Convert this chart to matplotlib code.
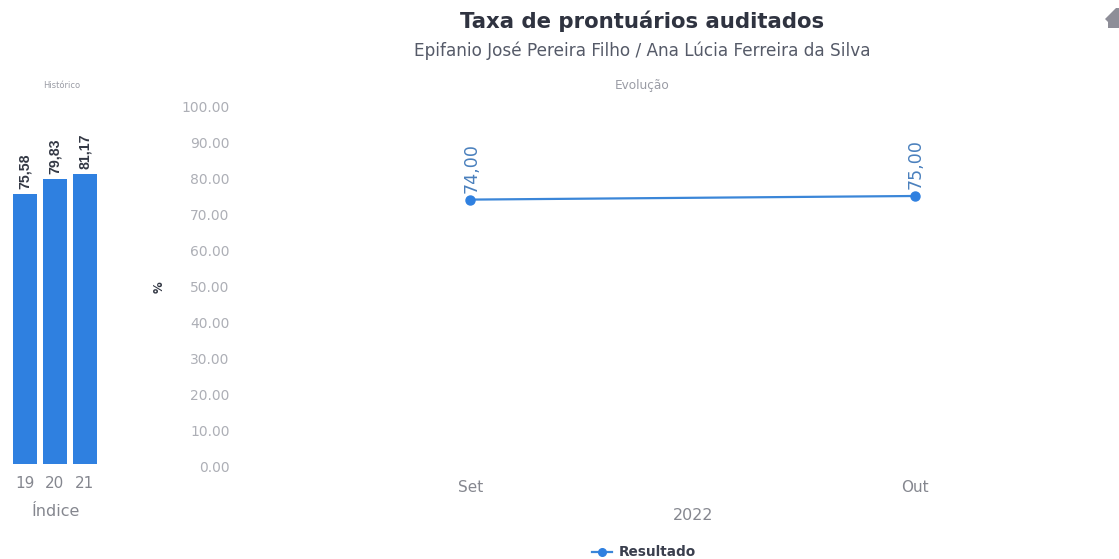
import matplotlib
matplotlib.use('Agg')
import matplotlib.pyplot as plt
from matplotlib.patches import Polygon

plt.rcParams['font.family'] = ['DejaVu Sans']

W, H = 1119, 559

hist_labels = ['19', '20', '21']
hist_values = [75.58, 79.83, 81.17]
hist_text = ['75,58', '79,83', '81,17']

months = ['Set', 'Out']
result_values = [74.00, 75.00]
result_text = ['74,00', '75,00']

y_ticks = [0, 10, 20, 30, 40, 50, 60, 70, 80, 90, 100]
y_labels = ['{:.2f}'.format(t) for t in y_ticks]

BLUE = '#2f80e0'
LINE = '#3b86d8'
GREY = '#9a9ca5'


def box(x0, y0, x1, y1):
    # pixel box (y from the top) to figure fractions
    return [x0 / W, 1 - y1 / H, (x1 - x0) / W, (y1 - y0) / H]


def ftext(x, y, s, **kw):
    fig.text(x / W, 1 - y / H, s, ha=kw.pop('ha', 'center'), va='center', **kw)


fig = plt.figure(figsize=(W / 100, H / 100), dpi=100)

# left chart, history
ax1 = fig.add_axes(box(10, 107, 100, 464))
ax1.bar(range(3), hist_values, width=0.8, color=BLUE)
ax1.set_xlim(-0.5, 2.5)
ax1.set_ylim(0, 100)
ax1.set_yticks([])
ax1.set_xticks(range(3))
ax1.set_xticklabels(hist_labels, fontsize=11, color='#85878f')
ax1.tick_params(axis='x', length=0, pad=9)
for s in ax1.spines.values():
    s.set_visible(False)
for i, v in enumerate(hist_values):
    ax1.annotate(hist_text[i], (i, v), xytext=(0, 3.5), textcoords='offset points',
                 rotation=90, ha='center', va='bottom', fontsize=10.2,
                 fontweight='bold', color='#333844', family='Liberation Sans')

# right chart, evolution
ax2 = fig.add_axes(box(249, 106, 1119, 466))
ax2.plot(range(2), result_values, color=LINE, lw=1.6, marker='o', ms=6.5,
         mfc=BLUE, mec=BLUE, clip_on=False)
ax2.set_xlim(-0.498, 1.46)
ax2.set_ylim(0, 100)
ax2.set_yticks(y_ticks)
ax2.set_yticklabels(y_labels, fontsize=10, color='#adafb6')
ax2.set_xticks(range(2))
ax2.set_xticklabels(months, fontsize=11, color='#85878f')
ax2.tick_params(axis='y', length=0, pad=14)
ax2.tick_params(axis='x', length=0, pad=10)
for s in ax2.spines.values():
    s.set_visible(False)
for i, v in enumerate(result_values):
    ax2.annotate(result_text[i], (i, v), xytext=(1, 5), textcoords='offset points',
                 rotation=90, ha='center', va='bottom', fontsize=12.6, color='#4a80bd')

# titles and other labels
ftext(642, 21, 'Taxa de prontuários auditados', fontsize=15.3, fontweight='bold', color='#2f3340')
ftext(642, 51, 'Epifanio José Pereira Filho / Ana Lúcia Ferreira da Silva', fontsize=12.2, color='#555a68')
ftext(62, 85, 'Histórico', fontsize=6, color=GREY)
ftext(642, 85, 'Evolução', fontsize=8.7, color=GREY)
ftext(56, 511, 'Índice', fontsize=11.5, color='#85878f')
ftext(693, 515, '2022', fontsize=11.5, color='#85878f')
ftext(159, 287, '%', fontsize=8.5, color='#333844', rotation=90, fontweight='bold')

# legend
fig.add_artist(plt.Line2D([592 / W, 612 / W], [1 - 552 / H] * 2, color=LINE, lw=1.6))
fig.add_artist(plt.Line2D([602 / W], [1 - 552 / H], color=BLUE, marker='o', ms=5.5))
ftext(619, 552, 'Resultado', ha='left', fontsize=9.8, fontweight='bold', color='#3a3f4e')

# home icon cut off at the right edge
icon = [(1105, 19), (1116, 8), (1119, 8), (1119, 28), (1108, 28), (1108, 22)]
fig.add_artist(Polygon([(x / W, 1 - y / H) for x, y in icon], closed=True,
                       transform=fig.transFigure, color='#8e8e98', lw=0))

fig.savefig('out.png', dpi=100)
